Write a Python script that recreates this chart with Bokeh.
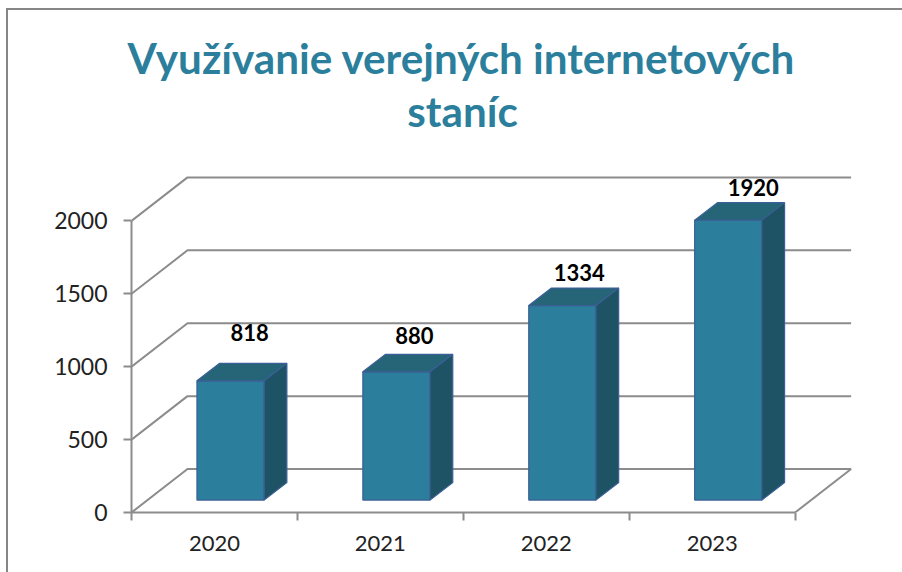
from bokeh.plotting import figure
from bokeh.models import LinearAxis, FixedTicker, Range1d, Label, Title, ColumnDataSource
from bokeh.core.properties import value
from bokeh.embed import file_html
from bokeh.resources import INLINE

years = ["2020", "2021", "2022", "2023"]
counts = [818, 880, 1334, 1920]
y_ticks = [0, 500, 1000, 1500, 2000]
title_lines = ["Využívanie verejných internetových", "staníc"]

# 3D style constants (in axis units)
WALL_DX, WALL_DY = 0.3376, 298
BAR_GAP_X, BAR_W = 0.0965 + 0.298, 0.405
BAR_BASE = 85
BAR_DX, BAR_DY = 0.137, 120
LABEL_DX = [19, 18, 17, 25]
LABEL_DY = [48, 36, 33, 33]

GRID = "#8c8c8c"
FRONT, TOP, SIDE, EDGE = "#2c7f9c", "#256577", "#1e5265", "#3b5f96"
FONT = "Lato"

n = len(years)
p = figure(
    frame_width=725, frame_height=422,
    x_range=Range1d(0, 4.37), y_range=Range1d(0, 2894),
    x_axis_location=None, y_axis_location=None,
    output_backend="svg", toolbar_location=None,
    min_border_left=123, min_border_right=46, min_border_top=80, min_border_bottom=60,
    outline_line_color=None, background_fill_color="white", border_fill_color="white",
)
p.grid.visible = False
p.styles = {"border-left": "2px solid #868686", "border-top": "2px solid #868686",
            "margin-left": "6px", "margin-top": "8px"}

# chart title: first line in the title panel, second line inside the frame's headroom
p.add_layout(Title(text=title_lines[0], align="left", offset=-4, text_font=FONT,
                   text_font_size="42.2px", text_font_style="bold", text_color=FRONT,
                   standoff=15), "above")
p.add_layout(Label(x=331, y=402, x_units="screen", y_units="screen", text=title_lines[1],
                   text_align="center", text_baseline="middle", text_font=FONT,
                   text_font_size="42.2px", text_font_style="bold", text_color=FRONT))

# axes
yax = LinearAxis(ticker=FixedTicker(ticks=y_ticks), bounds=(0, 2000),
                 axis_line_color=GRID, axis_line_width=2,
                 major_tick_line_color=GRID, major_tick_line_width=2,
                 major_tick_in=0, major_tick_out=8, minor_tick_line_color=None,
                 major_label_text_font=FONT, major_label_text_font_size="23px",
                 major_label_text_color="#222222", major_label_standoff=16)
p.add_layout(yax, "left")
centers = [i + 0.5 for i in range(n)]
xax = LinearAxis(ticker=FixedTicker(ticks=centers, minor_ticks=list(range(n + 1))), bounds=(0, n),
                 major_label_overrides={c: y for c, y in zip(centers, years)},
                 axis_line_color=GRID, axis_line_width=2,
                 major_tick_line_color=None, minor_tick_line_color=GRID, minor_tick_line_width=2,
                 minor_tick_in=0, minor_tick_out=8,
                 major_label_text_font=FONT, major_label_text_font_size="22px",
                 major_label_text_color="#222222", major_label_standoff=15)
p.add_layout(xax, "below")

# walls
p.multi_line(
    xs=[[0, WALL_DX, n + WALL_DX] for _ in y_ticks],
    ys=[[v, v + WALL_DY, v + WALL_DY] for v in y_ticks],
    line_color=GRID, line_width=2)
p.line([n, n + WALL_DX], [0, WALL_DY], line_color=GRID, line_width=2)

# bars
lefts = [i + BAR_GAP_X for i in range(n)]
rights = [l + BAR_W for l in lefts]
tops = [BAR_BASE + c for c in counts]
p.quad(left=lefts, right=rights, bottom=BAR_BASE, top=tops,
       fill_color=FRONT, line_color=EDGE, line_width=1.2)
p.patches(
    xs=[[l, r, r + BAR_DX, l + BAR_DX] for l, r in zip(lefts, rights)],
    ys=[[t, t, t + BAR_DY, t + BAR_DY] for t in tops],
    fill_color=TOP, line_color=EDGE, line_width=1.2)
p.patches(
    xs=[[r, r + BAR_DX, r + BAR_DX, r] for r in rights],
    ys=[[BAR_BASE, BAR_BASE + BAR_DY, t + BAR_DY, t] for t in tops],
    fill_color=SIDE, line_color=EDGE, line_width=1.2)

# data labels
src = ColumnDataSource(dict(
    x=[(l + r) / 2 for l, r in zip(lefts, rights)], y=tops,
    txt=[str(c) for c in counts], xo=LABEL_DX, yo=[-d for d in LABEL_DY]))
p.text(x="x", y="y", text="txt", x_offset="xo", y_offset="yo", source=src,
       text_align="center", text_baseline="middle", text_font=value(FONT),
       text_font_size="22px", text_font_style="bold", text_color="black")

open("out.html", "w").write(file_html(p, INLINE))
